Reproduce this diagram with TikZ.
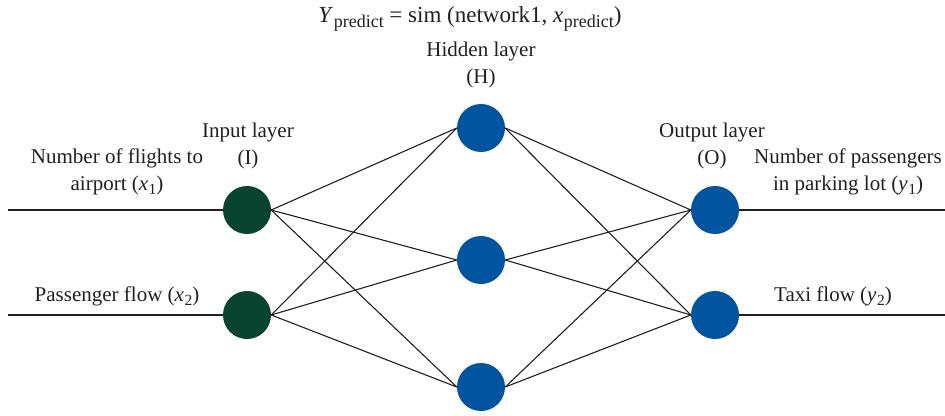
\documentclass[tikz,border=0pt]{standalone}
\usepackage{fontspec}
\setmainfont{Liberation Serif}
\usepackage{tikz}
\definecolor{ink}{RGB}{35,31,32}
\definecolor{inpg}{RGB}{8,68,48}
\definecolor{hidb}{RGB}{0,84,160}
\newcommand{\vsub}[2]{\textit{#1}\kern0.5pt\raisebox{-0.45ex}{\fontsize{15.5}{15.5}\selectfont #2}}
\newcommand{\tsub}[2]{\textit{#1}\kern0.5pt\raisebox{-0.45ex}{\fontsize{18}{18}\selectfont #2}}
\tikzset{
  neuron/.style={circle,minimum size=48pt,inner sep=0pt},
  lbl/.style={align=center,text=ink,font=\fontsize{21}{27}\selectfont},
  wire/.style={draw=ink,line width=1.1pt}
}

\begin{document}
\begin{tikzpicture}[x=1pt,y=-1pt]
            \useasboundingbox (0,0) rectangle (945,415);
            % neurons
            \node[neuron,fill=inpg] (i1) at (247,210) {};
            \node[neuron,fill=inpg] (i2) at (247,315) {};
            \node[neuron,fill=hidb] (h1) at (481,128) {};
            \node[neuron,fill=hidb] (h2) at (481,260) {};
            \node[neuron,fill=hidb] (h3) at (481,387) {};
            \node[neuron,fill=hidb] (o1) at (715,210) {};
            \node[neuron,fill=hidb] (o2) at (715,315) {};
            \coordinate (in1) at (8,210);
            \coordinate (in2) at (8,315);
            \coordinate (out1) at (945,210);
            \coordinate (out2) at (945,315);

            \foreach \k in {1,2} {
                \draw [wire] (in\k) -- (i\k.west);
                \draw [wire] (o\k.east) -- (out\k);
                \foreach \j in {1,2,3} {
                    \draw [wire] (i\k.east) -- (h\j.west);
                    \draw [wire] (h\j.east) -- (o\k.west);
                }
            }

            % labels
            \node[lbl,font=\fontsize{23}{27}\selectfont] (title) at (470,19) {\tsub{Y}{predict} = sim (network1, \tsub{x}{predict})};
            \node[lbl] (hl) at (481,65) {Hidden layer\\(H)};
            \node[lbl] (il) at (248,146) {Input layer\\(I)};
            \node[lbl] (ol) at (712,146) {Output layer\\(O)};
            \node[lbl] (x1) at (117,172) {Number of flights to\\airport (\vsub{x}{1})};
            \node[lbl] (y1) at (848,172) {Number of passengers\\in parking lot (\vsub{y}{1})};
            \node[lbl] (x2) at (117,296) {Passenger flow (\vsub{x}{2})};
            \node[lbl] (y2) at (833,296) {Taxi flow (\vsub{y}{2})};
\end{tikzpicture}
\end{document}
